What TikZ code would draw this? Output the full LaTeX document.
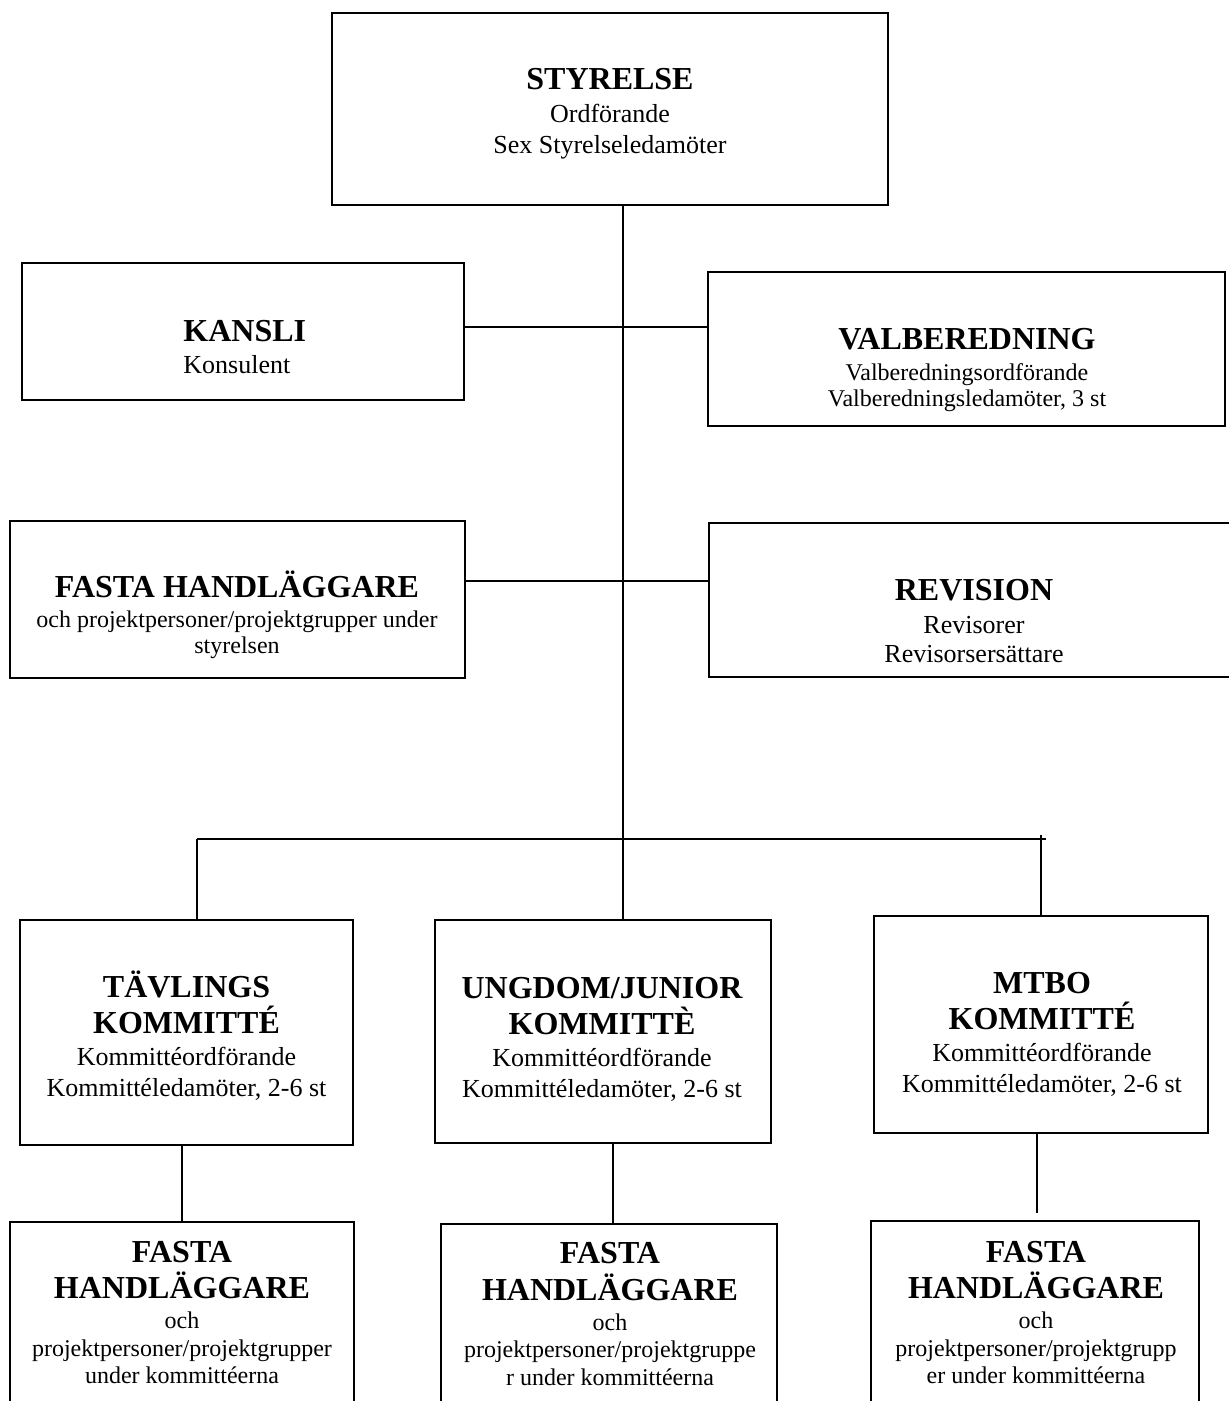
\documentclass[tikz,border=0pt]{standalone}
\usepackage{fontspec}
\setmainfont{Liberation Serif}
\newcommand\orgtitle{\fontsize{16pt}{18pt}\selectfont\bfseries}
\begin{document}
\lineskiplimit=-16000pt\relax
\begin{tikzpicture}[x=0.5pt,y=-0.5pt,
  box/.style={draw,line width=1pt,inner sep=0pt},
  txt/.style={anchor=north,inner sep=0pt,align=center},
  thinln/.style={line width=0.6pt},
  medln/.style={line width=0.9pt}]
\useasboundingbox (0,0) rectangle (1229,1401);
% boxes
\node[box,minimum width=278pt,minimum height=96pt] (sty) at (610,109) {};
\node[box,minimum width=221pt,minimum height=68.5pt] (kan) at (243,331.5) {};
\node[box,minimum width=258.5pt,minimum height=77pt] (val) at (966.5,349) {};
\node[box,minimum width=227.5pt,minimum height=78.5pt] (fas) at (237.5,599.5) {};
\node[box,minimum width=265pt,minimum height=77pt] (rev) at (974,600) {};
\node[box,minimum width=166.5pt,minimum height=112.5pt] (tav) at (186.5,1032.5) {};
\node[box,minimum width=168pt,minimum height=111.5pt] (ung) at (603,1031.5) {};
\node[box,minimum width=167pt,minimum height=108.5pt] (mtb) at (1041,1024.5) {};
\node[box,minimum width=172pt,minimum height=99pt] (fb1) at (182,1321) {};
\node[box,minimum width=168pt,minimum height=98pt] (fb2) at (609,1322) {};
\node[box,minimum width=164pt,minimum height=99.5pt] (fb3) at (1035,1320.5) {};
% texts
\node[txt,font=\fontsize{13pt}{15.5pt}\selectfont] (sty-t) at (610,89)
  {\smash{\orgtitle STYRELSE}\\[1pt] Ordförande\\ Sex Styrelseledamöter};
\node[txt,anchor=north west,align=left,font=\fontsize{13pt}{15.5pt}\selectfont] (kan-t) at (183,340.7)
  {\smash{\orgtitle KANSLI}\\[0.5pt] Konsulent};
\node[txt,font=\fontsize{12pt}{13pt}\selectfont] (val-t) at (967,349.3)
  {\smash{\orgtitle VALBEREDNING}\\[2.35pt] Valberedningsordförande\\ Valberedningsledamöter, 3 st};
\node[txt,font=\fontsize{12pt}{13.3pt}\selectfont] (fas-t) at (237,597.3)
  {\smash{\orgtitle FASTA HANDLÄGGARE}\\[1.4pt] och projektpersoner/projektgrupper under\\ styrelsen};
\node[txt,font=\fontsize{13pt}{14.5pt}\selectfont] (rev-t) at (974,600)
  {\smash{\orgtitle REVISION}\\[1.85pt] Revisorer\\ Revisorsersättare};
\node[txt,font=\fontsize{13pt}{15.5pt}\selectfont] (tav-t) at (186.5,996.7)
  {\smash{\orgtitle TÄVLINGS}\\[2.75pt] {\orgtitle KOMMITTÉ}\\[0.5pt] Kommittéordförande\\ Kommittéledamöter, 2-6 st};
\node[txt,font=\fontsize{13pt}{15.5pt}\selectfont] (ung-t) at (602,998)
  {\smash{\orgtitle UNGDOM/JUNIOR}\\[2.75pt] {\orgtitle KOMMITTÈ}\\[0.5pt] Kommittéordförande\\ Kommittéledamöter, 2-6 st};
\node[txt,font=\fontsize{13pt}{15.5pt}\selectfont] (mtb-t) at (1042,992.7)
  {\smash{\orgtitle MTBO}\\[2.75pt] {\orgtitle KOMMITTÉ}\\[0.5pt] Kommittéordförande\\ Kommittéledamöter, 2-6 st};
\node[txt,font=\fontsize{12pt}{13.75pt}\selectfont] (fb1-t) at (182,1261.7)
  {\smash{\orgtitle FASTA}\\[4.55pt] {\orgtitle HANDLÄGGARE}\\[1.25pt] och\\ projektpersoner/projektgrupper\\ under kommittéerna};
\node[txt,font=\fontsize{12pt}{13.75pt}\selectfont] (fb2-t) at (610,1263.3)
  {\smash{\orgtitle FASTA}\\[4.55pt] {\orgtitle HANDLÄGGARE}\\[1.25pt] och\\ projektpersoner/projektgruppe\\ r under kommittéerna};
\node[txt,font=\fontsize{12pt}{13.75pt}\selectfont] (fb3-t) at (1036,1261.7)
  {\smash{\orgtitle FASTA}\\[4.55pt] {\orgtitle HANDLÄGGARE}\\[1.25pt] och\\ projektpersoner/projektgrupp\\ er under kommittéerna};
% connector points
\coordinate (busC) at (623,839);
\coordinate (busL) at (197,839);
\coordinate (busR) at (1046,839);
\coordinate (dropR) at (1041,835);
\coordinate (h1) at (623,327);
\coordinate (h2) at (623,581);
\coordinate (c2) at (613,1224);
\coordinate (c3) at (1037,1213);
% connectors
\draw[thinln] (sty.south -| busC) -- (busC);
\draw[medln] (h1 -| kan.east) -- (h1 -| val.west);
\draw[medln] (h2 -| fas.east) -- (h2 -| rev.west);
\draw[medln] (busL) -- (busR);
\draw[medln] (busL) -- (busL |- tav.north);
\draw[medln] (busC) -- (busC |- ung.north);
\draw[medln] (dropR) -- (dropR |- mtb.north);
\draw[thinln] (tav.south -| fb1.north) -- (fb1.north);
\draw[thinln] (c2 |- ung.south) -- (c2);
\draw[thinln] (c3 |- mtb.south) -- (c3);
\end{tikzpicture}
\end{document}
